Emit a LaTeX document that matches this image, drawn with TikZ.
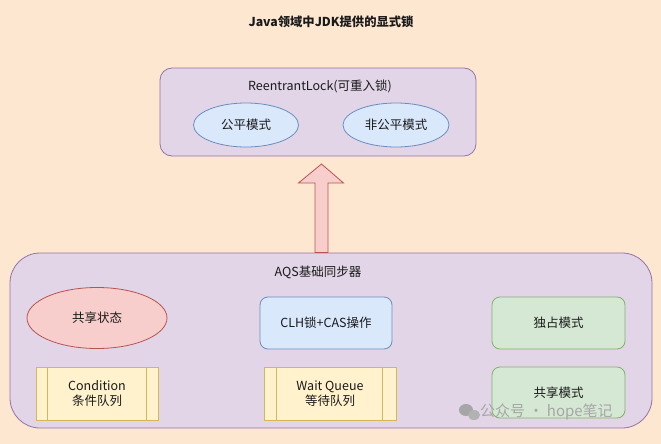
\documentclass[tikz,border=0pt]{standalone}
\usepackage{fontspec}
\setmainfont{Noto Sans CJK SC}
\usetikzlibrary{shapes.geometric,calc}
\definecolor{bgc}{HTML}{FDE7D1}
\definecolor{purf}{HTML}{E1D5E7}
\definecolor{purd}{HTML}{9673A6}
\definecolor{redf}{HTML}{F8CECC}
\definecolor{redd}{HTML}{B85450}
\definecolor{bluf}{HTML}{DAE8FC}
\definecolor{blud}{HTML}{6C8EBF}
\definecolor{grnf}{HTML}{D5E8D4}
\definecolor{grnd}{HTML}{82B366}
\definecolor{yelf}{HTML}{FFF2CC}
\definecolor{yeld}{HTML}{D6B656}
\definecolor{txt}{HTML}{1A1A1A}
\tikzset{
  container/.style={draw=purd, fill=purf, line width=0.8pt},
  ell/.style={ellipse, draw, line width=0.8pt, inner sep=0pt, font=\fontsize{12.5}{14}\selectfont, text=txt},
  rbox/.style={draw, rounded corners=8pt, line width=0.8pt, inner sep=0pt, font=\fontsize{12.5}{14}\selectfont, text=txt},
  proc/.style={draw=yeld, fill=yelf, line width=0.8pt, inner sep=0pt, align=center, font=\fontsize{12.5}{15}\selectfont, text=txt},
  lbl/.style={font=\fontsize{12.5}{14}\selectfont, text=txt, inner sep=0pt},
}
\begin{document}
\begin{tikzpicture}[x=1pt,y=-1pt]
\fill[bgc] (0,0) rectangle (661,444);
\useasboundingbox (0,0) rectangle (661,444);
\node[lbl, font=\fontsize{12.3}{14}\selectfont\bfseries] (title) at (331,22) {Java领域中JDK提供的显式锁};
% top container
\draw[container, rounded corners=12pt] (160,68) rectangle (476,156);
\node[lbl] (rl) at (320,86) {ReentrantLock(可重入锁)};
\node[ell, draw=blud, fill=bluf, minimum width=105pt, minimum height=44pt] (fair) at (246,125) {公平模式};
\node[ell, draw=blud, fill=bluf, minimum width=106pt, minimum height=44pt] (unfair) at (396,125) {非公平模式};
% bottom container
\draw[container, rounded corners=30pt] (10,253) rectangle (652,428);
\node[lbl] (aqs) at (318,272) {AQS基础同步器};
\node[ell, draw=redd, fill=redf, minimum width=140pt, minimum height=61pt] (share) at (97,318) {共享状态};
\node[rbox, draw=blud, fill=bluf, minimum width=132pt, minimum height=52pt] (clh) at (326,323) {CLH锁+CAS操作};
\node[rbox, draw=grnd, fill=grnf, minimum width=133pt, minimum height=52pt] (excl) at (558.5,323) {独占模式};
\node[rbox, draw=grnd, fill=grnf, minimum width=133pt, minimum height=51pt] (shm) at (558.5,392.5) {共享模式};
\node[proc, minimum width=122pt, minimum height=53pt] (cond) at (97,393.5) {Condition\\条件队列};
\draw[yeld, line width=0.8pt] ([xshift=12pt]cond.north west) -- ([xshift=12pt]cond.south west);
\draw[yeld, line width=0.8pt] ([xshift=-12pt]cond.north east) -- ([xshift=-12pt]cond.south east);
\node[proc, minimum width=132pt, minimum height=53pt] (wq) at (330,393.5) {Wait Queue\\等待队列};
\draw[yeld, line width=0.8pt] ([xshift=13pt]wq.north west) -- ([xshift=13pt]wq.south west);
\draw[yeld, line width=0.8pt] ([xshift=-14pt]wq.north east) -- ([xshift=-14pt]wq.south east);
% block arrow
\coordinate (abase) at (321.5,252.5);
\coordinate (atip) at (321.5,164);
\draw[draw=redd, fill=redf, line width=0.8pt, line join=miter]
  ($(abase)+(-6.5,0)$) -- ($(atip)+(-6.5,19)$) -- ($(atip)+(-23,19)$)
  -- (atip) -- ($(atip)+(22,19)$) -- ($(atip)+(6.5,19)$) -- ($(abase)+(6.5,0)$) -- cycle;
% watermark
\node[font=\fontsize{15}{17}\selectfont, text=black!35, anchor=west, inner sep=0pt] (wm) at (480,412) {公众号 · hope笔记};
\fill[black!35] (466,410) ellipse (7pt and 6pt);
\fill[black!30] (474,415) ellipse (6pt and 5pt);
\end{tikzpicture}
\end{document}
